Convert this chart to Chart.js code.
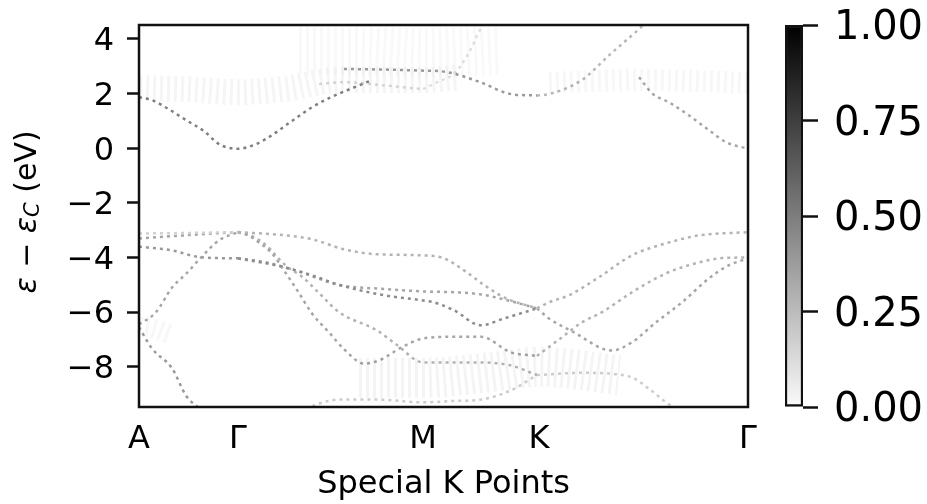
<!DOCTYPE html>
<html>
<head>
<meta charset="utf-8">
<script src="https://cdn.jsdelivr.net/npm/chart.js@4"></script>
<style>
  html, body { margin: 0; padding: 0; background: #fff; }
  #wrap { position: relative; width: 927px; height: 504px; }
  #bands { position: absolute; left: 0; top: 0; }
  #cbar { position: absolute; left: 770px; top: 0; }
</style>
</head>
<body>
<div id="wrap">
  <canvas id="bands" width="770" height="504"></canvas>
  <canvas id="cbar" width="157" height="504"></canvas>
</div>
<script>
// k-path nodes and labels
var kNodes = [0, 0.99, 2.84, 4.0, 6.09];
var kLabels = ['A', 'Γ', 'M', 'K', 'Γ'];
var eTicks = [-8, -6, -4, -2, 0, 2, 4];
var cbarTicks = [0, 0.25, 0.5, 0.75, 1];

// unfolded bands: [k, energy] pairs
var condA = [[0, 1.87], [0.13, 1.76], [0.31, 1.4], [0.47, 1.03], [0.66, 0.6], [0.8, 0.15], [0.99, -0.02], [1.17, 0.15], [1.33, 0.48], [1.53, 1.0], [1.73, 1.5], [1.91, 1.85], [2.1, 2.15], [2.3, 2.45]];
var condB = [[1.8, 2.35], [2.05, 2.42], [2.45, 2.3], [2.84, 2.16]];
var condC = [[2.05, 2.9], [2.45, 2.88], [2.84, 2.84], [3.01, 2.82], [3.14, 2.74], [3.41, 2.42], [3.72, 1.98], [3.98, 1.93]];
var condD = [[2.84, 2.16], [3.0, 2.45], [3.15, 2.72], [3.3, 3.5], [3.42, 4.4], [3.48, 4.7]];
var condE = [[3.98, 1.93], [4.1, 1.98], [4.43, 2.5], [4.7, 3.4], [5.0, 4.36], [5.1, 4.7]];
var condF = [[5.0, 2.6], [5.14, 1.98], [5.3, 1.68], [5.5, 1.2], [5.7, 0.66], [5.87, 0.22], [6.09, -0.02]];

var valA0 = [[0, -3.12], [0.5, -3.1], [0.99, -3.07]];
var valA1 = [[0, -3.3], [0.21, -3.25], [0.61, -3.15], [0.99, -3.07]];
var valA2 = [[0, -3.6], [0.33, -3.74], [0.62, -3.99], [0.99, -4.03]];
var valA3 = [[0, -6.45], [0.17, -6.0], [0.33, -5.1], [0.47, -4.6], [0.62, -4.0], [0.8, -3.37], [0.99, -3.07]];
var valA4 = [[0, -6.55], [0.13, -7.33], [0.33, -8.05], [0.47, -9.05], [0.63, -9.6]];
var valB1 = [[0.99, -3.07], [1.47, -3.19], [1.73, -3.33], [2.05, -3.7], [2.38, -3.88], [2.84, -3.92], [3.05, -4.03], [3.25, -4.47], [3.45, -5.0], [3.65, -5.46], [3.98, -5.86]];
var valB2 = [[0.99, -4.03], [1.27, -4.18], [1.5, -4.4], [1.73, -4.65], [2.0, -5.0], [2.45, -5.38], [2.84, -5.57], [2.95, -5.64], [3.15, -5.93], [3.42, -6.48], [3.65, -6.23], [3.98, -5.86]];
var valB3 = [[0.99, -4.03], [1.5, -4.4], [2.0, -5.0], [2.45, -5.15], [2.84, -5.24], [3.15, -5.27], [3.42, -5.35], [3.72, -5.6], [3.98, -5.86]];
var valB4 = [[0.99, -3.07], [1.1, -3.2], [1.2, -3.45], [1.33, -3.85], [1.47, -4.58], [1.6, -5.3], [1.73, -6.05], [1.9, -6.74], [2.05, -7.35], [2.25, -7.88], [2.41, -7.75], [2.62, -7.3], [2.84, -6.96], [3.15, -6.9], [3.42, -6.9], [3.72, -7.47], [3.98, -7.6]];
var valB5 = [[0.99, -3.07], [1.15, -3.25], [1.27, -3.55], [1.47, -4.3], [1.63, -4.7], [1.8, -5.3], [2.0, -6.0], [2.38, -6.67], [2.58, -7.2], [2.84, -7.84], [3.15, -7.84], [3.42, -7.84], [3.72, -7.95], [3.98, -8.3]];
var valB6 = [[1.6, -9.6], [2.0, -9.2], [2.4, -9.2], [2.84, -9.3], [3.15, -9.25], [3.42, -9.2], [3.72, -8.86], [3.98, -8.3]];
var valC1 = [[3.98, -5.86], [4.1, -5.64], [4.3, -5.38], [4.6, -4.72], [4.93, -3.92], [5.27, -3.48], [5.6, -3.19], [6.09, -3.07]];
var valC2 = [[3.98, -5.86], [4.1, -6.23], [4.37, -6.78], [4.63, -7.33], [4.73, -7.4], [4.93, -7.1], [5.17, -6.37], [5.43, -5.64], [5.7, -4.76], [5.9, -4.28], [6.09, -4.03]];
var valC3 = [[3.98, -7.6], [4.2, -7.0], [4.43, -6.37], [4.63, -6.0], [4.93, -5.27], [5.27, -4.58], [5.6, -4.18], [5.83, -4.02], [6.09, -4.0]];
var valC4 = [[3.98, -8.3], [4.43, -8.22], [4.9, -8.35], [5.1, -8.8], [5.27, -9.3], [5.4, -9.6]];

// weak, smeared spectral weight
var hazeUpper = [[0, 2.2], [0.5, 2.15], [0.99, 2.05], [1.5, 2.2], [2.0, 2.5], [2.84, 2.5], [3.2, 2.6]];
var hazeTop = [[1.6, 3.6], [2.2, 3.6], [2.84, 3.5], [3.6, 3.6]];
var hazeRight = [[4.1, 2.4], [5.0, 2.5], [6.09, 2.4]];
var hazeLowMK = [[2.2, -8.4], [2.84, -8.4], [3.5, -8.2], [4.0, -8.0], [4.8, -8.3]];
var hazeA = [[0, -6.5], [0.15, -6.6], [0.3, -6.8]];

// spectral weight of each band (0..1)
var bandList = [
  [condA, 0.5], [condB, 0.15], [condC, 0.4], [condD, 0.12], [condE, 0.28], [condF, 0.35],
  [valA0, 0.18], [valA1, 0.35], [valA2, 0.4], [valA3, 0.35], [valA4, 0.4],
  [valB1, 0.3], [valB2, 0.45], [valB3, 0.35], [valB4, 0.35], [valB5, 0.3], [valB6, 0.2],
  [valC1, 0.3], [valC2, 0.35], [valC3, 0.3], [valC4, 0.2]
];
// [points, width, weight]
var hazeList = [
  [hazeUpper, 26, 0.04], [hazeTop, 50, 0.025], [hazeRight, 22, 0.03], [hazeLowMK, 40, 0.045], [hazeA, 20, 0.03]
];

function grey(w) {
  var g = Math.round(255 * (1 - w));
  return 'rgb(' + g + ',' + g + ',' + g + ')';
}

function toXY(pts) {
  return pts.map(function (p) { return { x: p[0], y: p[1] }; });
}

var datasets = [];
hazeList.forEach(function (h) {
  datasets.push({
    data: toXY(h[0]),
    borderColor: 'rgba(0,0,0,' + h[2] + ')',
    borderWidth: h[1],
    borderDash: [3, 4],
    cubicInterpolationMode: 'monotone'
  });
});
bandList.forEach(function (b) {
  datasets.push({
    data: toXY(b[0]),
    borderColor: grey(b[1]),
    borderWidth: 2.5,
    borderDash: [3, 4],
    cubicInterpolationMode: 'monotone'
  });
});

Chart.defaults.font.family = 'DejaVu Sans';
Chart.defaults.color = '#000';

// black box round the plot area
var frame = {
  id: 'frame',
  afterDatasetsDraw: function (chart) {
    var a = chart.chartArea, ctx = chart.ctx;
    ctx.save();
    ctx.strokeStyle = '#111';
    ctx.lineWidth = 2.5;
    ctx.strokeRect(a.left, a.top, a.right - a.left, a.bottom - a.top);
    ctx.restore();
  }
};

// y label with a subscript C
var yLabel = {
  id: 'yLabel',
  afterDraw: function (chart) {
    var ctx = chart.ctx, a = chart.chartArea;
    var parts = [
      { t: 'ε', f: 'italic 30px "DejaVu Sans"', dy: 0 },
      { t: ' − ', f: '30px "DejaVu Sans"', dy: 0 },
      { t: 'ε', f: 'italic 30px "DejaVu Sans"', dy: 0 },
      { t: 'C', f: 'italic 21px "DejaVu Sans"', dy: 6 },
      { t: ' (eV)', f: '30px "DejaVu Sans"', dy: 0 }
    ];
    ctx.save();
    var total = 0;
    parts.forEach(function (p) { ctx.font = p.f; p.w = ctx.measureText(p.t).width; total += p.w; });
    ctx.translate(28, (a.top + a.bottom) / 2 - 4);
    ctx.rotate(-Math.PI / 2);
    ctx.fillStyle = '#000';
    ctx.textBaseline = 'middle';
    var x = -total / 2;
    parts.forEach(function (p) {
      ctx.font = p.f;
      ctx.fillText(p.t, x, p.dy);
      x += p.w;
    });
    ctx.restore();
  }
};

new Chart(document.getElementById('bands'), {
  type: 'line',
  data: { datasets: datasets },
  options: {
    responsive: false,
    animation: false,
    layout: { padding: { top: 25, right: 22, left: 0, bottom: 0 } },
    plugins: { legend: { display: false }, tooltip: { enabled: false } },
    elements: { point: { radius: 0 }, line: { borderCapStyle: 'butt' } },
    scales: {
      x: {
        type: 'linear',
        min: kNodes[0],
        max: kNodes[kNodes.length - 1],
        afterBuildTicks: function (s) { s.ticks = kNodes.map(function (v) { return { value: v }; }); },
        afterFit: function (s) { s.height = 97; s.paddingLeft = 0; s.paddingRight = 0; },
        ticks: {
          callback: function (v, i) { return kLabels[i]; },
          font: { size: 32 },
          padding: 13,
          maxRotation: 0,
          autoSkip: false
        },
        grid: { drawOnChartArea: false, drawTicks: false },
        border: { display: false },
        title: { display: true, text: 'Special K Points', font: { size: 32 }, padding: { top: 0, bottom: 0 } }
      },
      y: {
        min: -9.47,
        max: 4.51,
        afterBuildTicks: function (s) { s.ticks = eTicks.map(function (v) { return { value: v }; }); },
        afterFit: function (s) { s.width = 139; s.paddingTop = 0; s.paddingBottom = 0; },
        ticks: {
          callback: function (v) { return v < 0 ? '\u2212' + Math.abs(v) : String(v); },
          font: { size: 32 },
          padding: 13,
          labelOffset: 3
        },
        grid: { drawOnChartArea: false, tickLength: 12, tickWidth: 2.5, color: '#111' },
        border: { display: false }
      }
    }
  },
  plugins: [frame, yLabel]
});

// colour bar
new Chart(document.getElementById('cbar'), {
  type: 'bar',
  data: {
    labels: [''],
    datasets: [{
      data: [[cbarTicks[0], cbarTicks[cbarTicks.length - 1]]],
      backgroundColor: function (c) {
        var a = c.chart.chartArea;
        if (!a) return '#888';
        var g = c.chart.ctx.createLinearGradient(0, a.bottom, 0, a.top);
        g.addColorStop(0, grey(0.02));
        g.addColorStop(1, grey(1));
        return g;
      },
      borderColor: '#111',
      borderWidth: 2.5,
      borderSkipped: false,
      barPercentage: 1,
      categoryPercentage: 1
    }]
  },
  options: {
    responsive: false,
    animation: false,
    layout: { padding: { left: 15, top: 25, bottom: 97, right: 0 } },
    plugins: { legend: { display: false }, tooltip: { enabled: false } },
    scales: {
      x: { display: false },
      y: {
        position: 'right',
        min: 0,
        max: 1,
        afterBuildTicks: function (s) { s.ticks = cbarTicks.map(function (v) { return { value: v }; }); },
        afterFit: function (s) { s.width = 124; s.paddingTop = 0; s.paddingBottom = 0; },
        ticks: { callback: function (v) { return v.toFixed(2); }, font: { size: 40 }, padding: 16, labelOffset: 4 },
        grid: { drawOnChartArea: false, tickLength: 15, tickWidth: 2.5, color: '#111' },
        border: { display: false }
      }
    }
  }
});
</script>
</body>
</html>
